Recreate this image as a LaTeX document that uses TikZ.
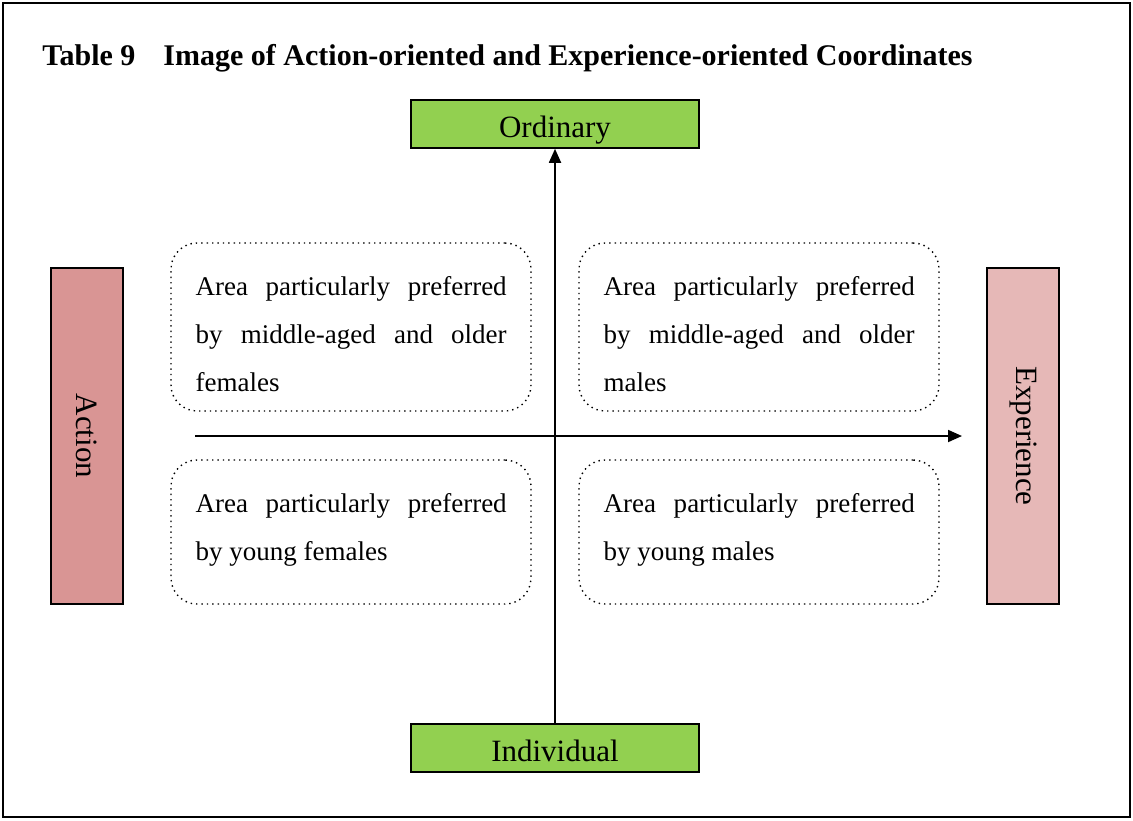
\documentclass[tikz,border=0pt]{standalone}
\usepackage{fontspec}
\setmainfont{Liberation Serif}
\usetikzlibrary{arrows.meta,positioning}
\definecolor{ordgreen}{HTML}{92D050}
\definecolor{actpink}{HTML}{D99594}
\definecolor{exppink}{HTML}{E6B8B7}
\hyphenpenalty=10000
\exhyphenpenalty=10000
\tikzset{
  polebox/.style={draw, line width=0.8pt, fill=ordgreen, minimum width=144pt, minimum height=24pt, inner sep=0pt, text height=13pt, text depth=0pt, font=\fontsize{15.5}{18}\selectfont},
  sidebox/.style={draw, line width=0.8pt, rotate=-90, minimum width=168pt, minimum height=36pt, inner sep=0pt, font=\fontsize{15.5}{18}\selectfont},
  areabox/.style={draw, dotted, line width=0.7pt, rounded corners=13pt, minimum width=180pt, inner sep=0pt},
  areatext/.style={anchor=north west, inner sep=0pt, text width=155.5pt, align=justify, font=\fontsize{13.5}{24}\selectfont},
  axis/.style={line width=0.9pt, -{Triangle[length=7pt,width=6pt]}}
}

\begin{document}
\begin{tikzpicture}[x=0.5pt, y=-0.5pt]
			%%%%% START %%%%%
			\useasboundingbox (0,0) rectangle (1133,820);
			\draw[line width=1pt] (3,3) rectangle (1130,817);

			\node[anchor=base west, inner sep=0pt, font=\bfseries\fontsize{15}{18}\selectfont] (title) at (42,65)
				{Table 9\hspace{14pt}Image of Action-oriented and Experience-oriented Coordinates};

			% poles
			\node[polebox] (ord) at (555,124) {Ordinary};
			\node[polebox] (indiv) at (555,748) {Individual};
			\node[sidebox, fill=actpink] (act) at (87,436) {Action};
			\node[sidebox, fill=exppink] (exp) at (1023,436) {Experience};

			% quadrants
			\node[areabox, minimum height=84pt] (tl) at (351,327) {};
			\node[areabox, minimum height=84pt] (tr) at (759,327) {};
			\node[areabox, minimum height=72pt] (bl) at (351,532) {};
			\node[areabox, minimum height=72pt] (br) at (759,532) {};

			\node[areatext] (tltext) at ([xshift=12.5pt, yshift=-17pt]tl.north west)
				{Area particularly preferred by middle-aged and older females};
			\node[areatext] (trtext) at ([xshift=12.5pt, yshift=-17pt]tr.north west)
				{Area particularly preferred by middle-aged and older males};
			\node[areatext] (bltext) at ([xshift=12.5pt, yshift=-17pt]bl.north west)
				{Area particularly preferred by young females};
			\node[areatext] (brtext) at ([xshift=12.5pt, yshift=-17pt]br.north west)
				{Area particularly preferred by young males};

			% axes
			\coordinate (west) at (195,436);
			\coordinate (east) at (962,436);
			\draw[axis] (west) -- (east);
			\draw[axis] (indiv.north) -- (ord.south);
			%%%%% END %%%%%
\end{tikzpicture}
\end{document}
